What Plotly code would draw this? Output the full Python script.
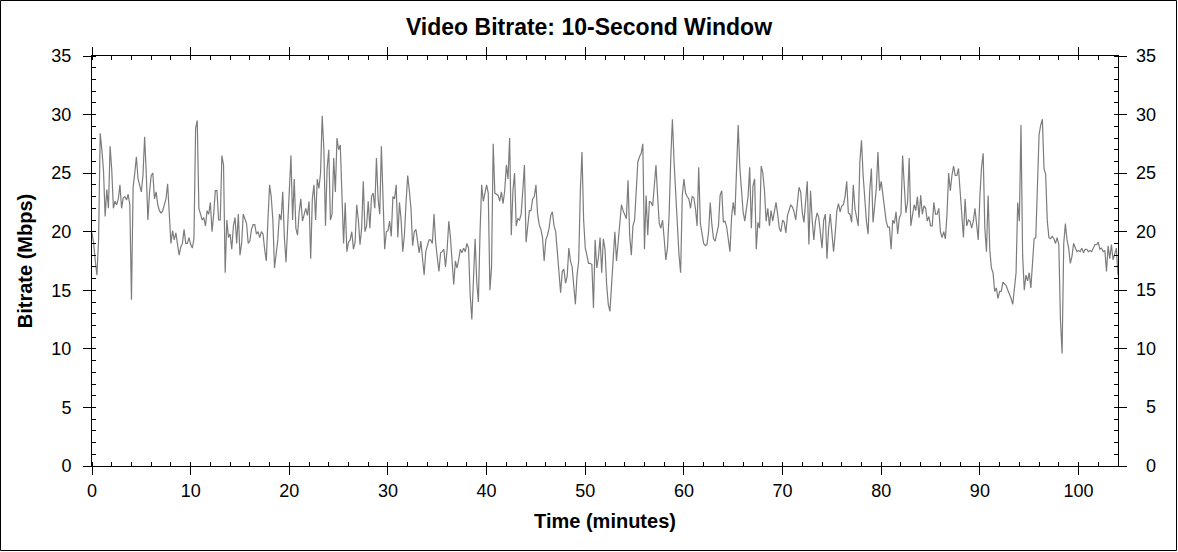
import plotly.graph_objects as go

# One value per 10-second window (Mbps)
WINDOW_SECONDS = 10

bitrate_00_10 = [
    19.9, 19.0, 17.5, 16.3, 19.3, 28.4, 27.0, 25.2, 21.3, 23.6,
    22.0, 27.3, 25.3, 22.0, 22.6, 22.3, 22.8, 24.0, 22.0, 22.9,
    23.0, 22.7, 23.2, 22.3, 14.2, 23.8, 25.0, 26.4, 24.5, 24.0,
    23.4, 24.8, 28.1, 25.0, 21.0, 23.4, 24.8, 25.0, 22.8, 23.4,
    22.3, 21.8, 21.6, 21.8, 22.3, 22.8, 24.1, 21.2, 19.0, 20.1,
    19.3, 19.9, 18.7, 18.0, 18.7, 19.0, 20.2, 19.0, 19.0, 19.5,
    18.9, 18.6, 19.4,
]
bitrate_10_22 = [
    28.8, 29.5, 22.0, 21.5, 21.0, 21.2, 20.5, 21.8, 21.5, 22.5,
    20.0, 21.5, 23.5, 23.5, 21.0, 21.0, 26.5, 25.7, 16.5, 21.0,
    19.5, 19.8, 18.5, 20.5, 21.2, 19.0, 21.5, 18.0, 19.0, 21.5,
    21.0, 20.7, 19.0, 19.2, 20.2, 20.6, 20.6, 19.8, 20.0, 19.5,
    20.0, 19.8, 18.5, 17.5, 21.0, 24.0, 23.0, 21.0, 16.9, 18.3,
    19.3, 21.5, 21.0, 23.4, 19.5, 17.4, 20.3, 23.5, 26.5, 21.0,
    24.5, 20.3, 19.7, 21.7, 22.8, 20.9, 21.4, 22.0, 21.4, 22.6,
    17.7,
]
bitrate_22_34 = [
    22.8, 24.0, 21.0, 24.5, 23.7, 25.0, 29.9, 27.1, 20.5, 25.4,
    27.0, 21.0, 21.5, 26.3, 23.4, 28.0, 27.0, 27.4, 22.0, 19.0,
    22.5, 18.3, 19.1, 19.3, 20.0, 18.5, 19.1, 22.3, 21.0, 18.9,
    20.3, 24.3, 20.0, 20.5, 22.6, 20.3, 23.0, 23.3, 22.0, 26.3,
    22.8, 21.5, 27.3, 23.1, 18.5, 20.0, 20.1, 20.9, 19.6, 23.0,
    22.8, 24.0, 19.5, 22.5, 21.0, 18.3, 19.7, 22.5, 24.8, 23.5,
    22.0, 18.8, 20.0, 20.2, 19.1, 18.2, 19.2, 17.7, 16.3, 18.3,
    18.8, 19.3,
]
bitrate_34_46 = [
    19.3, 19.0, 21.5, 19.1, 17.8, 16.6, 18.2, 18.3, 18.5, 17.0,
    18.5, 20.9, 19.5, 17.3, 15.5, 17.5, 16.9, 17.6, 18.5, 18.2,
    18.6, 18.3, 19.0, 18.6, 14.6, 12.5, 16.0, 19.4, 15.7, 14.0,
    20.0, 24.0, 22.6, 23.3, 24.0, 23.3, 15.0, 17.0, 27.5, 23.3,
    23.2, 23.1, 22.6, 23.4, 22.4, 23.5, 25.7, 24.5, 28.0, 19.7,
    23.5, 25.0, 20.5, 21.1, 21.0, 21.5, 23.5, 25.7, 19.1, 20.5,
    21.8, 21.8, 22.8, 23.0, 24.0, 21.5, 20.6, 20.2, 19.5, 17.5,
    19.3,
]
bitrate_46_58 = [
    19.7, 20.3, 21.4, 21.7, 20.5, 20.0, 18.3, 16.5, 14.8, 16.6,
    16.8, 15.6, 16.2, 18.6, 17.5, 17.0, 15.3, 13.8, 16.3, 17.5,
    23.5, 26.8, 21.0, 18.6, 18.0, 17.3, 17.3, 17.2, 13.5, 19.3,
    16.9, 17.8, 19.5, 16.5, 19.4, 18.5, 15.5, 13.8, 13.2, 15.7,
    17.2, 20.0, 17.5, 19.1, 20.6, 22.3, 21.8, 21.4, 21.1, 24.4,
    19.7, 18.0, 20.5, 21.0, 23.1, 26.0, 26.4, 26.7, 27.5, 18.5,
    23.1, 19.7, 22.6, 22.5, 22.2, 23.7, 25.7, 23.0, 20.7, 20.3,
    21.0,
]
bitrate_58_70 = [
    19.4, 17.6, 18.6, 21.5, 26.3, 29.6, 26.0, 23.3, 20.3, 18.0,
    16.5, 23.1, 24.5, 23.3, 23.0, 22.8, 22.0, 23.0, 22.9, 22.0,
    20.5, 25.5, 20.7, 20.0, 19.0, 18.8, 18.9, 20.0, 22.5, 20.6,
    19.4, 19.2, 19.8, 20.5, 23.1, 23.5, 20.8, 20.9, 20.4, 19.1,
    18.3, 21.3, 22.5, 21.4, 25.0, 29.1, 25.5, 23.1, 21.7, 20.9,
    22.1, 23.0, 25.5, 20.3, 23.9, 24.5, 18.5, 20.8, 20.3, 25.6,
    25.0, 23.5, 20.9, 22.0, 20.5, 21.8, 20.9, 21.8, 22.5, 21.5,
    20.3, 20.0,
]
bitrate_70_82 = [
    21.0, 20.8, 19.9, 21.4, 21.8, 22.3, 22.1, 21.7, 21.0, 22.8,
    23.8, 23.4, 21.6, 20.8, 22.6, 24.3, 18.9, 23.5, 21.0, 19.3,
    20.9, 21.6, 21.2, 19.6, 18.6, 21.0, 21.5, 17.7, 20.3, 21.5,
    20.0, 18.3, 19.8, 21.8, 22.4, 21.7, 22.2, 22.3, 23.0, 24.3,
    21.6, 21.5, 20.8, 24.0, 22.0, 21.1, 20.5, 26.0, 27.8, 24.8,
    22.3, 20.9, 19.8, 23.5, 25.4, 20.8, 22.2, 23.7, 26.8, 23.5,
    24.3, 23.0, 21.9, 20.9, 20.4, 20.4, 18.5, 21.0, 20.7, 21.7,
    19.8, 21.2,
]
bitrate_82_94 = [
    21.5, 26.5, 24.0, 21.6, 22.5, 26.3, 20.5, 21.5, 22.3, 21.8,
    23.0, 21.2, 23.1, 21.5, 22.2, 22.0, 20.9, 21.3, 20.5, 20.5,
    22.5, 21.5, 21.5, 22.0, 20.0, 19.5, 20.0, 19.4, 21.5, 25.0,
    23.5, 24.8, 25.6, 24.8, 24.8, 25.4, 23.4, 21.0, 19.5, 22.8,
    20.5, 21.0, 20.9, 20.3, 20.9, 22.0, 20.3, 19.3, 23.0, 25.5,
    26.7, 20.3, 18.3, 23.1, 18.5, 16.9, 16.5, 14.9, 15.2, 14.3,
    14.9, 14.9, 15.7, 15.5, 15.4, 15.0, 14.7, 14.3, 13.8, 15.2,
    16.5, 22.5,
]
bitrate_94_104 = [
    20.9, 29.1, 18.0, 15.0, 16.3, 15.8, 16.5, 15.2, 17.0, 19.4,
    19.5, 23.1, 28.3, 29.1, 29.6, 25.4, 24.9, 20.9, 19.5, 19.4,
    19.6, 19.4, 19.0, 19.5, 18.9, 12.5, 9.6, 19.0, 20.7, 19.3,
    18.6, 17.3, 17.9, 19.0, 18.6, 18.3, 18.4, 18.3, 18.6, 18.2,
    18.5, 18.5, 18.3, 18.4, 18.3, 18.6, 18.9, 18.9, 19.1, 18.5,
    18.6, 18.3, 18.4, 16.6, 18.8, 17.7, 18.9, 17.6, 18.2, 18.6,
    16.3,
]

bitrate = (
    bitrate_00_10 + bitrate_10_22 + bitrate_22_34 + bitrate_34_46 + bitrate_46_58
    + bitrate_58_70 + bitrate_70_82 + bitrate_82_94 + bitrate_94_104
)
minutes = [i * WINDOW_SECONDS / 60 for i in range(len(bitrate))]

X_TICKS = list(range(0, 101, 10))
Y_TICKS = list(range(0, 36, 5))

FONT = "Liberation Sans, Arial, sans-serif"
W, H = 1178, 552
L, R, T, B = 92, 60, 56, 86
pw, ph = W - L - R, H - T - B

fig = go.Figure()
fig.add_trace(
    go.Scatter(
        x=minutes,
        y=bitrate,
        mode="lines",
        line=dict(color="#7c7c7c", width=1.2),
        showlegend=False,
    )
)

axis_common = dict(
    showgrid=False,
    zeroline=False,
    linecolor="black",
    linewidth=1,
    tickcolor="black",
    tickwidth=1,
    tickfont=dict(family=FONT, size=18, color="black"),
)

fig.update_layout(
    width=W,
    height=H,
    margin=dict(l=L, r=R, t=T, b=B),
    paper_bgcolor="white",
    plot_bgcolor="white",
    font=dict(family=FONT, color="black"),
    title=dict(
        text="Video Bitrate: 10-Second Window",
        x=0.5,
        xref="container",
        xanchor="center",
        y=1 - 27 / H,
        yanchor="middle",
        font=dict(size=23, weight="bold"),
    ),
    xaxis=dict(
        **axis_common,
        range=[0, 104],
        tickvals=X_TICKS,
        ticks="outside",
        ticklen=8,
        showline=True,
        mirror="allticks",
        minor=dict(dtick=2, tick0=0, ticks="inside", ticklen=4, tickcolor="black"),
        title=dict(text="Time (minutes)", font=dict(size=20, weight="bold"), standoff=14),
    ),
    xaxis2=dict(
        **axis_common,
        overlaying="x",
        range=[0, 104],
        tickvals=X_TICKS,
        ticks="inside",
        ticklen=7,
        mirror="ticks",
        showticklabels=False,
        showline=False,
    ),
    yaxis=dict(
        **axis_common,
        range=[0, 35],
        tickvals=Y_TICKS,
        ticks="outside",
        ticklen=8,
        ticklabelstandoff=8,
        showline=True,
        mirror="allticks",
        minor=dict(dtick=1, tick0=0, ticks="inside", ticklen=4, tickcolor="black"),
        title=dict(text="Bitrate (Mbps)", font=dict(size=20, weight="bold"), standoff=13),
    ),
    yaxis3=dict(
        **axis_common,
        overlaying="y",
        range=[0, 35],
        tickvals=Y_TICKS,
        ticks="inside",
        ticklen=7,
        mirror="ticks",
        showticklabels=False,
        showline=False,
    ),
)

# Right-hand tick labels, right-aligned like the reference
for v in Y_TICKS:
    fig.add_annotation(
        x=1 + (1158 - (L + pw)) / pw,
        y=v,
        xref="paper",
        yref="y",
        text=str(v),
        showarrow=False,
        xanchor="right",
        yanchor="middle",
        font=dict(family=FONT, size=18, color="black"),
    )

# Thin black frame around the whole picture
fig.add_shape(
    type="rect",
    xref="paper",
    yref="paper",
    x0=-(L - 0.5) / pw,
    x1=1 + (1176.5 - (L + pw)) / pw,
    y0=-(550.5 - (T + ph)) / ph,
    y1=1 + (T - 0.5) / ph,
    line=dict(color="black", width=1),
    fillcolor="rgba(0,0,0,0)",
    layer="below",
)

fig.write_html(
    "out.html",
    config={"displayModeBar": False},
    post_script="document.body.style.margin='0';document.body.style.overflow='hidden';",
)
